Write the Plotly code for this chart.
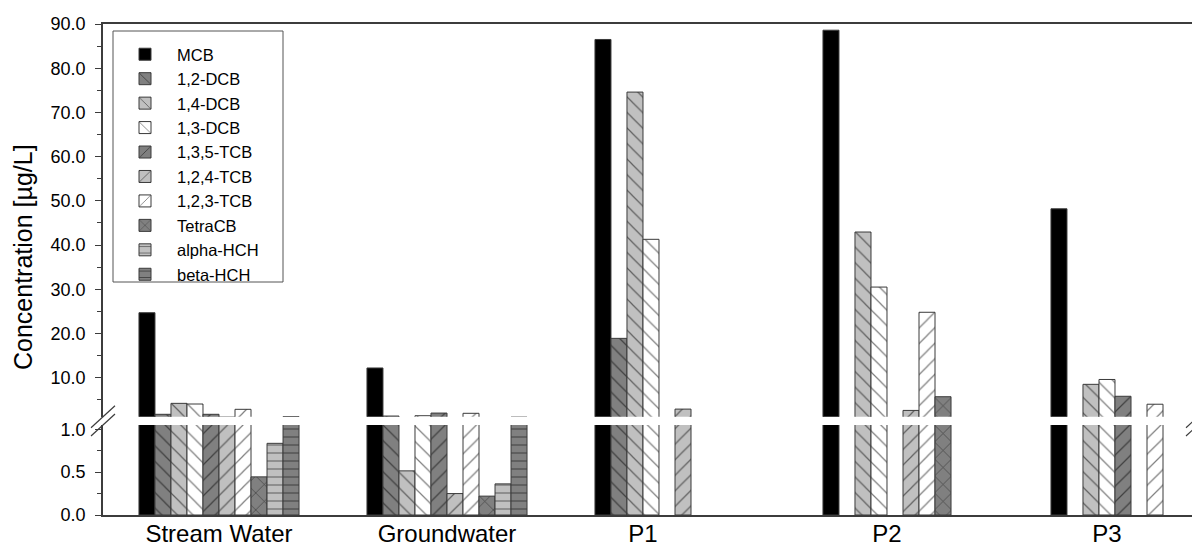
import plotly.graph_objects as go

# ---------------- data ----------------
categories = ["Stream Water", "Groundwater", "P1", "P2", "P3"]
series = ["MCB", "1,2-DCB", "1,4-DCB", "1,3-DCB", "1,3,5-TCB",
          "1,2,4-TCB", "1,2,3-TCB", "TetraCB", "alpha-HCH", "beta-HCH"]

mcb       = [24.7, 12.2, 86.5, 88.6, 48.2]
dcb_12    = [1.72, 1.33, 18.9, None, None]
dcb_14    = [4.2, 0.515, 74.6, 42.95, 8.5]
dcb_13    = [4.05, 1.4, 41.3, 30.5, 9.6]
tcb_135   = [1.72, 2.0, None, None, 5.8]
tcb_124   = [1.1, 0.25, 2.9, 2.6, None]
tcb_123   = [2.85, 1.95, None, 24.8, 4.0]
tetracb   = [0.445, 0.22, None, 5.7, None]
alpha_hch = [0.836, 0.363, None, None, None]
beta_hch  = [1.2, 1.1, None, None, None]

values = [mcb, dcb_12, dcb_14, dcb_13, tcb_135, tcb_124, tcb_123,
          tetracb, alpha_hch, beta_hch]

lower_ticks = [0.0, 0.5, 1.0]
upper_ticks = [10, 20, 30, 40, 50, 60, 70, 80, 90]

# ---------------- styles ----------------
DARK, LIGHT, WHITE = "#808080", "#c0c0c0", "#ffffff"
styles = [
    ("#000000", ""),
    (DARK, "\\"), (LIGHT, "\\"), (WHITE, "\\"),
    (DARK, "/"), (LIGHT, "/"), (WHITE, "/"),
    (DARK, "x"), (LIGHT, "-"), (DARK, "-"),
]
pat_size = {"": 8, "\\": 11, "/": 11, "x": 12, "-": 8}
pat_sol = {"": 0.2, "\\": 0.11, "/": 0.11, "x": 0.11, "-": 0.13}

FONT = "Arial, Liberation Sans, sans-serif"

# the page body has an 8px margin; lay the figure out in page pixels
OFF = 8
PAGE_W, PAGE_H = 1200, 546
W, H = PAGE_W - OFF, PAGE_H - OFF
PLOT_L, PLOT_R, PLOT_T, PLOT_B = 103, 1198, 24, 515   # page pixels
ML = PLOT_L - OFF
MT = PLOT_T - OFF
MR = W - (PLOT_R - OFF)
MB = H - (PLOT_B - OFF)
PW = PLOT_R - PLOT_L
PH = PLOT_B - PLOT_T

def px_x(p):
    return (p - PLOT_L) / PW

def px_y(p):
    return (PLOT_B - p) / PH

BARGAP = 0.298
n_series = len(series)
x_pos = list(range(len(categories)))

fig = go.Figure()
for i, (name, vals) in enumerate(zip(series, values)):
    col, shp = styles[i]
    marker = dict(color=col, line=dict(color="#3a3a3a", width=1),
                  pattern=dict(shape=shp, fgcolor="#000000", bgcolor=col,
                               size=pat_size[shp], solidity=pat_sol[shp]))
    fig.add_trace(go.Bar(x=x_pos, y=vals, name=name, marker=marker,
                         xaxis="x", yaxis="y", legendgroup=name,
                         offsetgroup=str(i), showlegend=True))
    fig.add_trace(go.Bar(x=x_pos, y=vals, name=name, marker=marker,
                         xaxis="x2", yaxis="y2", legendgroup=name,
                         offsetgroup=str(i), showlegend=False))

# label positions: centered on the span of bars present in each group
slot = (1 - BARGAP) / n_series
label_pos = []
for g in range(len(categories)):
    present = [i for i in range(n_series) if values[i][g] is not None]
    mid = (present[0] + present[-1]) / 2
    label_pos.append(g + (mid - (n_series - 1) / 2) * slot)

x_range = [-116 / 228, 979 / 228]

low_top = 1.05
up_bot = 1.18
upper_dom = [px_y(416.7), 1]
lower_dom = [0, px_y(425)]

axis_col = "#3c3c3c"
tickfont = dict(family=FONT, size=18, color="#000")

fig.update_layout(
    width=W, height=H,
    margin=dict(l=ML, r=MR, t=MT, b=MB, autoexpand=False),
    paper_bgcolor="white", plot_bgcolor="white",
    barmode="group", bargap=BARGAP, bargroupgap=0,
    font=dict(family=FONT, color="#000"),
    xaxis=dict(range=x_range, domain=[0, 1], anchor="y", automargin=False,
               tickmode="array", tickvals=label_pos, ticktext=categories,
               tickfont=dict(family=FONT, size=24, color="#000"),
               ticklabelstandoff=-4,
               showline=True, linecolor=axis_col, linewidth=1.5,
               ticks="", showgrid=False, zeroline=False),
    xaxis2=dict(range=x_range, matches="x", anchor="y2", side="top",
                automargin=False,
                showticklabels=False, ticks="", showline=True,
                linecolor=axis_col, linewidth=1.5, showgrid=False,
                zeroline=False),
    yaxis=dict(domain=lower_dom, range=[0, low_top], anchor="x",
               automargin=False,
               tickmode="array", tickvals=lower_ticks, tickformat=".1f",
               ticks="outside", ticklen=6, tickcolor=axis_col,
               minor=dict(dtick=0.25, tick0=0, ticks="outside", ticklen=4,
                          tickcolor=axis_col, showgrid=False),
               tickfont=tickfont, ticklabelstandoff=6,
               showline=True, linecolor=axis_col, linewidth=1.5,
               mirror=True, showgrid=False, zeroline=False),
    yaxis2=dict(domain=upper_dom, range=[up_bot, 90], anchor="x2",
                automargin=False,
                tickmode="array", tickvals=upper_ticks, tickformat=".1f",
                ticks="outside", ticklen=6, tickcolor=axis_col,
                minor=dict(dtick=5, tick0=0, ticks="outside", ticklen=4,
                           tickcolor=axis_col, showgrid=False),
                tickfont=tickfont, ticklabelstandoff=6,
                showline=True, linecolor=axis_col, linewidth=1.5,
                mirror=True, showgrid=False, zeroline=False),
    legend=dict(x=px_x(113), y=px_y(37),
                xanchor="left", yanchor="top",
                bgcolor="rgba(0,0,0,0)", borderwidth=0,
                font=dict(family=FONT, size=16.5, color="#000"),
                itemwidth=54, tracegroupgap=0, traceorder="normal"),
    annotations=[dict(text="Concentration [µg/L]", textangle=-90,
                      xref="paper", yref="paper", xanchor="center",
                      yanchor="middle",
                      x=px_x(23), y=px_y(257),
                      showarrow=False,
                      font=dict(family=FONT, size=25, color="#000"))],
)

shapes = []
# legend frame
shapes.append(dict(type="rect", xref="paper", yref="paper", layer="above",
                   x0=px_x(113), x1=px_x(283), y0=px_y(282), y1=px_y(31),
                   fillcolor="white", line=dict(color="#555", width=1)))
# broken-axis marks
for cx in (PLOT_L, PLOT_R):
    for cy in (416.7, 425):
        shapes.append(dict(type="line", xref="paper", yref="paper",
                           x0=px_x(cx - 12), y0=px_y(cy + 11),
                           x1=px_x(cx + 12), y1=px_y(cy - 11),
                           line=dict(color="#3c3c3c", width=1.2)))
fig.update_layout(shapes=shapes)

fig.write_html("out.html")
